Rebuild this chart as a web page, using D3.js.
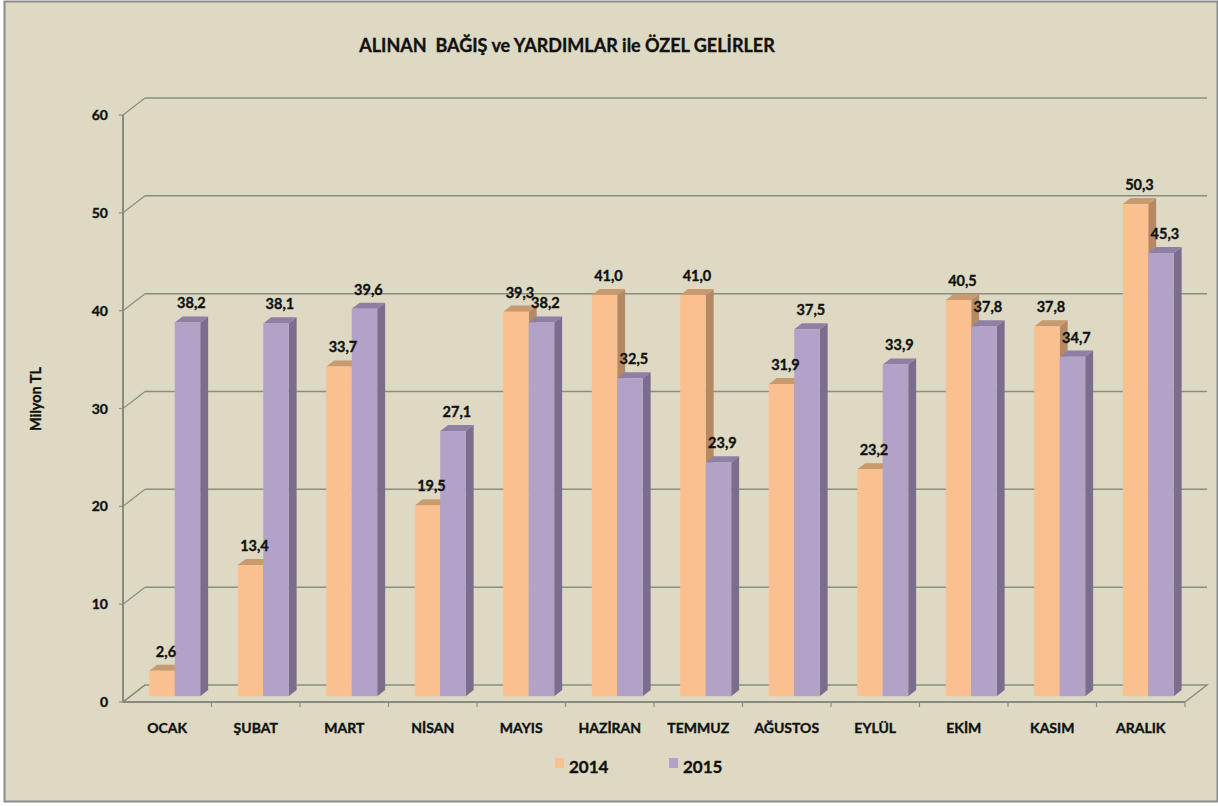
<!DOCTYPE html>
<html><head><meta charset="utf-8">
<script src="https://cdn.jsdelivr.net/npm/d3@7"></script>
<style>html,body{margin:0;padding:0;background:#fff;}svg{display:block;}
text{paint-order:stroke;stroke:#111;stroke-width:0.35px;white-space:pre;}</style>
</head><body>
<svg id="c" width="1218" height="806"></svg>
<script>
const months = ["OCAK","ŞUBAT","MART","NİSAN","MAYIS","HAZİRAN","TEMMUZ","AĞUSTOS","EYLÜL","EKİM","KASIM","ARALIK"];
const series = ["2014","2015"];
const values2014 = [2.6,13.4,33.7,19.5,39.3,41.0,41.0,31.9,23.2,40.5,37.8,50.3];
const values2015 = [38.2,38.1,39.6,27.1,38.2,32.5,23.9,37.5,33.9,37.8,34.7,45.3];
const yTicks = [0,10,20,30,40,50,60];
const titleText = "ALINAN  BAĞIŞ ve YARDIMLAR ile ÖZEL GELİRLER";
const yTitle = "Milyon TL";

const svg = d3.select("#c");
const font = "Lato, 'Open Sans', sans-serif";
const colors = {
  "2014": {front:"#FAC08F", top:"#C99A6E", side:"#B58963"},
  "2015": {front:"#B3A2C7", top:"#8E80A4", side:"#7B6D8E"}
};

svg.append("rect").attr("x",4.5).attr("y",1.5).attr("width",1213).attr("height",800)
  .attr("fill","#DDD9C3").attr("stroke","#8C8C8C").attr("stroke-width",2);

const x0 = 123, x1 = 1185, yBase = 702;
const DX = 22, DY = -17;
const fFront = 0.34, fBack = 0.70;
const x = d3.scaleBand().domain(months).range([x0, x1]).paddingInner(0.424).paddingOuter(0.212);
const xs = d3.scaleBand().domain(series).range([0, x.bandwidth()]);
const xc = d3.scaleBand().domain(months).range([x0, x1]);
const y = d3.scaleLinear().domain([0,60]).range([yBase, 115]);

const grid = "#8E8C80";
yTicks.forEach(t => {
  const yy = y(t);
  if (t > 0) {
    svg.append("line").attr("x1",x0+DX).attr("y1",yy+DY).attr("x2",x1+DX).attr("y2",yy+DY)
      .attr("stroke",grid).attr("stroke-width",1.5);
  }
  svg.append("line").attr("x1",x0).attr("y1",yy).attr("x2",x0+DX).attr("y2",yy+DY)
    .attr("stroke",grid).attr("stroke-width",1.2);
  svg.append("line").attr("x1",x0-4).attr("y1",yy).attr("x2",x0).attr("y2",yy)
    .attr("stroke",grid).attr("stroke-width",1.2);
  svg.append("text").attr("x",108).attr("y",yy+5).attr("text-anchor","end")
    .attr("font-family",font).attr("font-weight","bold").attr("font-size",14).attr("fill","#111")
    .text(t);
});
svg.append("path").attr("d",`M${x0},${yBase}L${x0+DX},${yBase+DY}L${x1+DX},${yBase+DY}L${x1},${yBase}`)
  .attr("fill","none").attr("stroke",grid).attr("stroke-width",1.5);
svg.append("line").attr("x1",x0).attr("y1",yBase).attr("x2",x1).attr("y2",yBase)
  .attr("stroke","#8A8A80").attr("stroke-width",2);
svg.append("line").attr("x1",x0).attr("y1",y(60)).attr("x2",x0).attr("y2",yBase)
  .attr("stroke","#8A8A80").attr("stroke-width",2);
months.forEach((m,i) => {
  const xx = xc(m);
  if (i > 0) svg.append("line").attr("x1",xx).attr("y1",yBase).attr("x2",xx).attr("y2",yBase+5)
    .attr("stroke",grid).attr("stroke-width",1.2);
});
svg.append("line").attr("x1",x1).attr("y1",yBase).attr("x2",x1).attr("y2",yBase+5).attr("stroke",grid).attr("stroke-width",1.2);

const ox = fFront*DX, oy = fFront*DY;
const bdx = (fBack-fFront)*DX, bdy = (fBack-fFront)*DY;
const data = months.map((m,i) => ({m, vals:[{s:"2014",v:values2014[i]},{s:"2015",v:values2015[i]}]}));
const bars = svg.append("g");
const labels = [];
data.forEach(d => {
  d.vals.forEach(b => {
    const L = x(d.m) + xs(b.s) + ox, R = L + xs.bandwidth();
    const B = yBase + oy, T = y(b.v) + oy;
    const c = colors[b.s];
    bars.append("path").attr("d",`M${R},${B}L${R+bdx},${B+bdy}L${R+bdx},${T+bdy}L${R},${T}Z`).attr("fill",c.side);
    bars.append("path").attr("d",`M${L},${T}L${R},${T}L${R+bdx},${T+bdy}L${L+bdx},${T+bdy}Z`).attr("fill",c.top);
    bars.append("rect").attr("x",L).attr("y",T).attr("width",R-L).attr("height",B-T).attr("fill",c.front);
    labels.push({x:(L+R)/2 + bdx/2, y:T+bdy-8, t:d3.format(".1f")(b.v).replace(".",",")});
  });
});
labels.forEach(l => {
  svg.append("text").attr("x",l.x).attr("y",l.y).attr("text-anchor","middle")
    .attr("font-family",font).attr("font-weight","bold").attr("font-size",14.5).attr("fill","#111").text(l.t);
});
months.forEach(m => {
  svg.append("text").attr("x",xc(m)+xc.bandwidth()/2).attr("y",733).attr("text-anchor","middle")
    .attr("font-family",font).attr("font-weight","bold").attr("font-size",14).attr("fill","#111").text(m);
});
svg.append("text").attr("x",567).attr("y",52).attr("text-anchor","middle").attr("xml:space","preserve")
  .attr("font-family",font).attr("font-weight","bold").attr("font-size",18).attr("fill","#111").text(titleText);
svg.append("text").attr("transform","translate(41,399) rotate(-90)").attr("text-anchor","middle")
  .attr("font-family",font).attr("font-weight","bold").attr("font-size",14.5).attr("fill","#111").text(yTitle);
const legX = [555, 669];
series.forEach((s,i) => {
  svg.append("rect").attr("x",legX[i]).attr("y",758).attr("width",9).attr("height",10).attr("fill",colors[s].front);
  svg.append("text").attr("x",legX[i]+14).attr("y",773).attr("font-family",font).attr("font-weight","bold")
    .attr("font-size",17).attr("fill","#111").text(s);
});
</script>
</body></html>
